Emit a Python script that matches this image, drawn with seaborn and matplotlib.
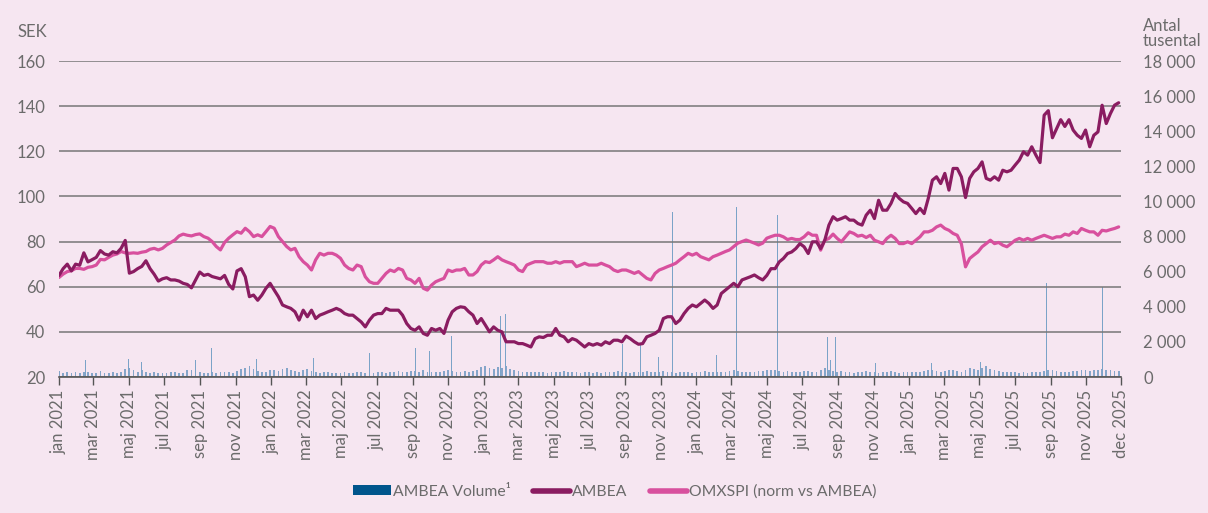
import pandas as pd
import matplotlib
matplotlib.use('Agg')
import matplotlib.pyplot as plt
from matplotlib.patches import Patch
from matplotlib.lines import Line2D
import seaborn as sns

sns.set_theme(style='white')
plt.rcParams['font.family'] = ['Lato', 'DejaVu Sans']

# ---------------- data ----------------
start_date = '2021-01-01'
end_date = '2025-12-27'

ambea_close = [
    65, 68, 70, 67, 70, 69.5, 75, 71, 72, 73, 76, 74.5, 74, 75.5, 75, 77, 80.5, 66, 66.7, 68, 69, 71.5,
    68, 65.5, 62.5, 63.5, 64, 63, 63, 62.5, 61.5, 61, 59.5, 63, 66.5, 65, 65.5, 64.5, 64, 63.5, 65, 61, 59, 67,
    68, 64.4, 55.6, 56.3, 54, 56.3, 59.3, 61.5, 58.5, 55.6, 51.9, 51.1, 50.4, 48.9, 45.2, 49.6, 46.7, 49.6,
    45.9, 47.4, 48.1, 48.9, 49.6, 50.4, 49.6, 48.1, 47.4, 47.4, 45.9, 44.4, 42.2, 45.2, 47.4, 48.1, 48.1,
    50.4, 49.6, 49.6, 49.6, 47.4, 43.7, 41.5, 40.7, 42.2,
    39.3, 38.5, 41.5, 40.7, 41.5, 39.3, 45.2, 48.9, 50.4, 51.1, 50.8, 48.9, 47.4, 43.7, 45.9, 43, 40, 42.2,
    40.7, 40, 35.6, 35.6, 35.6, 34.8, 34.8, 34.1, 33.3, 37, 37.8, 37.5, 38.5, 38.5, 41.5, 38.5, 37.8, 35.6,
    37, 36.3, 34.8, 33.3, 34.8, 34.1, 34.8,
    34.1, 35.6, 34.8, 36.3, 36.3, 35.6, 38.1, 37, 35.6, 34.5, 34.8, 37.8, 38.5, 39.3, 40.7, 45.9, 46.7, 46.7,
    43.7, 45.2, 48.1, 50.4, 51.9, 51.1, 52.6, 54.1, 52.6, 50.4, 51.9, 57, 58.5, 60, 61.5, 60, 63, 63.7, 64.4,
    65.2, 64, 63, 65, 68,
    68, 71, 72.5, 74.7, 75.4, 76.9, 79.1, 77.7, 74.7, 79.9, 79.9, 76.9, 80.6, 87.3, 91, 89.5, 90.2, 91, 89.5,
    89.5, 88, 87.3, 91.7, 93.9, 90.2, 98.3, 93.9, 93.9, 96.9, 101.3, 99.1, 97.6, 96.9, 94.7, 92.4, 94.7, 92.4,
    99.1, 107.2, 108.7, 105.7, 110.2, 102.8,
    112.4, 112.4, 108.7, 99.5, 108, 110.9, 112.4, 115.3, 108, 107.2, 108.7, 107.2, 111.6, 110.9, 111.6, 113.9,
    116.1, 119.8, 118.3, 122, 118.3, 115, 136, 138, 126, 130, 134, 131, 134, 129.4, 127.1, 125.7, 129.4, 122,
    127.1, 128.6, 140.4, 132.3, 136.7, 140.4, 141.5,
]

omxspi_norm = [
    64.1, 65.6, 66.7, 67.1, 68.1, 68.1, 67.7, 68.6, 68.9, 69.6, 72.1, 71.9, 73, 74, 74.5, 75.6, 75, 74.8, 75,
    74.8, 75.3, 75.6, 76.6, 77, 76.3, 77, 78.5, 79.6, 80.7, 82.5, 83.3, 82.8, 82.5, 83.1, 83.4, 82.2, 81.5,
    80, 77.8, 76.3, 79.6, 81.5, 83, 84.4,
    83.7, 85.9, 84.4, 82.2, 83, 82.2, 84.4, 86.7, 85.9, 82.2, 80, 77.8, 76.3, 77, 73.3, 71.1, 69.6, 67.4,
    71.9, 74.8, 74, 74.8, 74.8, 74, 72.6, 69.6, 68.1, 67.4, 69.6, 68.9, 64.4, 62.2, 61.5, 61.5, 63.7, 65.9,
    67.4, 66.7, 68.1, 67.4, 63.7, 63, 61.5, 63.7,
    59.3, 58.5, 60.7, 62.2, 63, 63.7, 67.4, 66.7, 67.4, 67.4, 68.1, 65.2, 65.2, 66.7, 69.6, 71.1, 70.7, 71.9,
    73.3, 71.9, 71.1, 70.4, 69.6, 67.4, 66.7, 69.6, 70.4, 71.1, 71.1, 71.1, 70.4, 70.4, 71.1, 70.4, 71.1,
    71.1, 71.1, 68.9, 69.6, 70.4, 69.6, 69.6, 69.6,
    70.4, 69.6, 68.9, 67.4, 66.7, 67.4, 67.4, 66.7, 65.9, 66.7, 65.2, 63.7, 63, 65.9, 67.4, 68.1, 68.9, 69.6,
    70.4, 71.9, 73.3, 74.8, 74, 74.8, 73.3, 72.6, 71.9, 73.3, 74, 74.8, 75.6, 76.3, 77.8, 79.3, 80, 80.7, 80,
    79.3, 78.5, 79.3, 81.5, 82.2,
    82.8, 82.8, 82.1, 80.9, 81.4, 80.9, 80.9, 82.1, 83.9, 82.8, 82.8, 76.2, 80.6, 81.4, 83.3, 81.4, 79.9,
    82.1, 84.3, 83.6, 82.4, 82.8, 81.8, 82.8, 80.6, 79.9, 79.1, 81.4, 82.8, 81.4, 79.1, 79.1, 79.9, 79.1,
    80.6, 82.1, 84.3, 84.3, 85, 86.5, 87.3, 85.8, 85,
    83.6, 82.8, 79, 68.8, 72.5, 74, 75.4, 77.7, 79.1, 80.6, 79.1, 79.6, 78.4, 77.7, 79.1, 80.6, 81.4, 80.6,
    81.4, 80.6, 81.4, 82.1, 82.8, 82.1, 81.4, 82.1, 82.1, 83.3, 82.8, 84.3, 83.6, 85.8, 85, 84.3, 84.3, 82.8,
    85, 84.7, 85.3, 85.8, 86.5,
]

volume_base = [
    350, 250, 300, 200, 280, 220, 260, 300, 240, 250, 330, 200, 230, 260, 210, 280, 450,
    500, 380, 300, 420, 260, 220, 280, 240, 200, 220, 260, 300, 240, 230, 380, 420, 300, 260, 250, 230, 280,
    250, 310, 260, 300, 240, 360,
    450, 520, 600, 480, 350, 300, 280, 420, 380, 350, 460, 520, 400, 350, 300, 380, 450, 320, 300, 250, 280,
    260, 230, 250, 220, 260, 240, 230, 300, 280, 220, 260, 240, 280, 300, 250, 260, 300, 320, 280, 300, 350,
    320, 300,
    380, 300, 260, 280, 300, 350, 420, 360, 300, 280, 320, 300, 350, 420, 560, 620, 500, 480, 560, 520, 600,
    450, 380, 320, 300, 280, 300, 260, 280, 300, 250, 260, 300, 280, 320, 300, 260, 280, 250, 300, 260, 240,
    280,
    250, 260, 280, 300, 320, 280, 300, 250, 260, 300, 280, 320, 300, 260, 280, 350, 300, 260, 240, 280, 300,
    260, 250, 280, 300, 320, 260, 280, 300, 260, 300, 350, 380, 320, 300, 280, 260, 300, 320, 350, 380, 420,
    400, 360, 300, 320, 280, 260, 300, 320, 350, 300, 280, 380, 500, 420, 360, 300, 320, 280, 300, 250, 260,
    280, 350, 300, 260, 240, 280, 300, 320, 260, 250, 280, 300, 260, 280, 300, 350, 400, 380, 320, 300, 350,
    420,
    380, 350, 300, 420, 500, 450, 380, 520, 600, 480, 420, 350, 300, 280, 300, 260, 250, 280, 240, 260, 300,
    280, 350, 420, 380, 320, 300, 280, 300, 320, 350, 380, 400, 350, 420, 380, 450, 400, 380, 350, 320,
]

spike_dates = [
    '2021-02-16', '2021-05-01', '2021-05-23', '2021-08-23', '2021-09-20', '2021-12-07', '2022-03-15',
    '2022-06-18', '2022-09-05', '2022-09-30', '2022-11-07', '2023-01-29', '2023-02-07', '2023-08-28',
    '2023-09-27', '2023-10-29', '2023-11-21', '2024-02-05', '2024-03-10', '2024-05-20', '2024-08-13',
    '2024-08-18', '2024-08-27', '2024-11-04', '2025-02-09', '2025-05-04', '2025-08-25', '2025-11-30',
]
spike_volume = [
    970, 1000, 870, 970, 1670, 1030, 1060,
    1350, 1670, 1480, 2330, 3470, 3590, 1860,
    1920, 1160, 9400, 1250, 9700, 9230, 2300,
    970, 2300, 780, 815, 870, 5370, 5140,
]

tick_years = [2021, 2022, 2023, 2024, 2025]
tick_months = [('01', 'jan'), ('03', 'mar'), ('05', 'maj'), ('07', 'jul'), ('09', 'sep'), ('11', 'nov')]
tick_dates = [f'{y}-{m}-01' for y in tick_years for m, _ in tick_months] + ['2025-12-31']
tick_labels = [f'{n} {y}' for y in tick_years for _, n in tick_months] + ['dec 2025']

left_ticks = [20, 40, 60, 80, 100, 120, 140, 160]
right_ticks = [0, 2000, 4000, 6000, 8000, 10000, 12000, 14000, 16000, 18000]

# ---------------- style ----------------
BG = '#f6e6f1'
TEXT = '#6b6b6b'
GRID = '#777777'
C_AMBEA = '#8a1c61'
C_OMX = '#d8509e'
C_VOL = '#00558c'
C_VOLBAR = '#5f8fbc'

dates = pd.date_range(start_date, end_date, periods=len(ambea_close))
df = pd.DataFrame({'date': dates, 'ambea': ambea_close, 'omx': omxspi_norm, 'vol': volume_base})

fig = plt.figure(figsize=(12.08, 5.13), dpi=100, facecolor=BG)
W, H = 1208, 513
ax = fig.add_axes([59 / W, 1 - 377 / H, (1121 - 59) / W, (377 - 61) / H])
ax2 = ax.twinx()
ax.set_zorder(ax2.get_zorder() + 1)
ax.patch.set_visible(False)
ax2.patch.set_visible(False)

# volume (right axis)
ax2.bar(df['date'], df['vol'], width=3.0, color=C_VOLBAR, alpha=0.75, linewidth=0)
ax2.bar(pd.to_datetime(spike_dates), spike_volume, width=1.8, color='#7ba3c8', linewidth=0)
ax2.set_ylim(0, 18000)
ax2.set_yticks(right_ticks)
ax2.set_yticklabels([f'{v:,}'.replace(',', ' ') for v in right_ticks])
ax2.tick_params(axis='y', length=0, pad=16, labelsize=12, labelcolor=TEXT)

# prices (left axis)
sns.lineplot(data=df, x='date', y='omx', ax=ax, color=C_OMX, linewidth=2.3)
sns.lineplot(data=df, x='date', y='ambea', ax=ax, color=C_AMBEA, linewidth=2.3)
ax.set_ylim(20, 160)
ax.set_yticks(left_ticks)
ax.set_yticklabels([str(v) for v in left_ticks])
ax.tick_params(axis='y', length=0, pad=10, labelsize=12, labelcolor=TEXT)
ax.yaxis.grid(True, color=GRID, linewidth=1.1)
ax.set_axisbelow(True)
ax.set_xlabel('')
ax.set_ylabel('')
ax2.set_ylabel('')

ax.set_xlim(pd.Timestamp('2021-01-01'), pd.Timestamp('2025-12-31'))
ax.set_xticks(pd.to_datetime(tick_dates))
ax.set_xticklabels(tick_labels, rotation=90)
ax.tick_params(axis='x', bottom=True, length=6, width=1, color='#555555', pad=3,
               labelsize=12, labelcolor=TEXT)

for a in (ax, ax2):
    for s in ('top', 'left', 'right', 'bottom'):
        a.spines[s].set_visible(False)
ax.spines['bottom'].set_visible(True)
ax.spines['bottom'].set_color('#555555')
ax.spines['bottom'].set_linewidth(1.2)

fig.text(17 / W, 1 - 37 / H, 'SEK', fontsize=12, color=TEXT, va='baseline', ha='left')
fig.text(1143 / W, 1 - 18 / H, 'Antal\ntusental', fontsize=12, color=TEXT, va='top', ha='left',
         linespacing=0.95)

handles = [Patch(facecolor=C_VOL, edgecolor='none'),
           Line2D([0], [0], color=C_AMBEA, lw=4),
           Line2D([0], [0], color=C_OMX, lw=4)]
labels = ['AMBEA Volume¹', 'AMBEA', 'OMXSPI (norm vs AMBEA)']
fig.legend(handles, labels, loc='lower center', bbox_to_anchor=(615 / W, 0.0), ncol=3,
           frameon=False, fontsize=11.3, handlelength=2.4, handleheight=0.6, handletextpad=0.12,
           columnspacing=1.4, labelcolor=TEXT)

fig.savefig('out.png', dpi=100, facecolor=BG)
